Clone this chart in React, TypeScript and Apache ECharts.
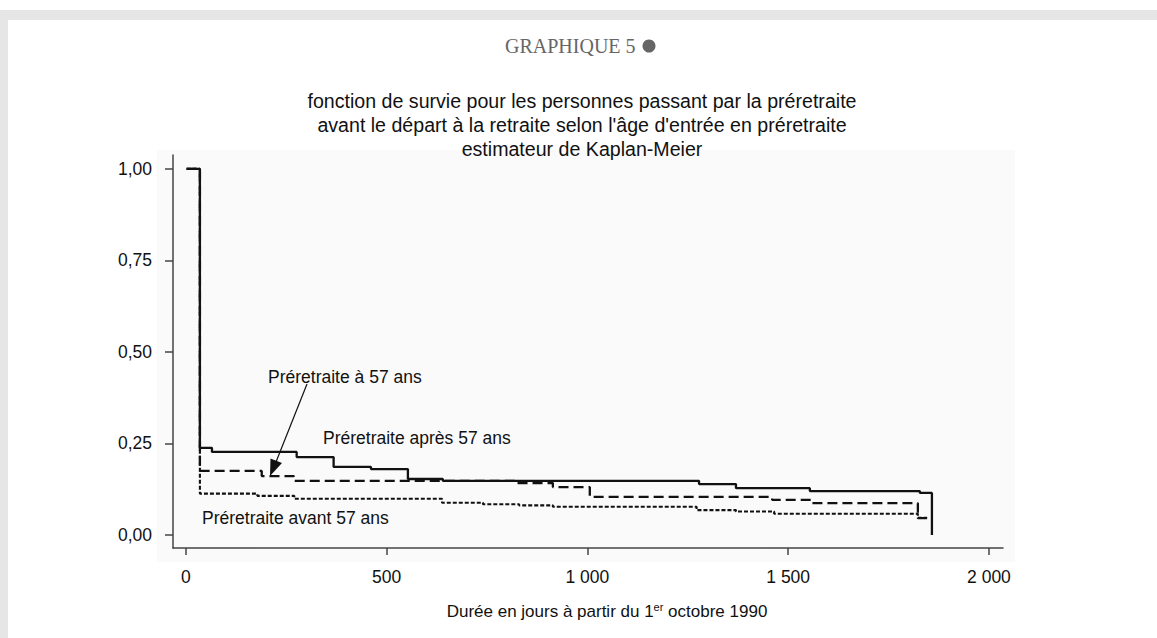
import React, { useEffect, useRef } from "react";
import * as echarts from "echarts";

// Durée (jours) et valeur de la fonction de survie (Kaplan-Meier)
const apresX = [2, 35, 65, 276, 368, 461, 553, 640, 1278, 1370, 1554, 1828, 1858];
const apresY = [1, 0.238, 0.227, 0.213, 0.186, 0.18, 0.153, 0.148, 0.139, 0.128, 0.12, 0.115, 0];

const a57X = [2, 35, 189, 269, 825, 914, 1006, 1460, 1559, 1823, 1846];
const a57Y = [1, 0.175, 0.161, 0.148, 0.142, 0.131, 0.104, 0.096, 0.087, 0.046, 0.046];

const avantX = [2, 35, 178, 270, 638, 740, 830, 914, 1272, 1370, 1465, 1823, 1846];
const avantY = [1, 0.113, 0.107, 0.099, 0.088, 0.084, 0.081, 0.077, 0.068, 0.064, 0.058, 0.047, 0.047];

const xTicks = [0, 500, 1000, 1500, 2000];
const yTicks = [0, 0.25, 0.5, 0.75, 1];

const titleText = "GRAPHIQUE 5";
const subtitleLines = [
  "fonction de survie pour les personnes passant par la préretraite",
  "avant le départ à la retraite selon l'âge d'entrée en préretraite",
  "estimateur de Kaplan-Meier",
];
const labelA57 = "Préretraite à 57 ans";
const labelApres = "Préretraite après 57 ans";
const labelAvant = "Préretraite avant 57 ans";

const SANS = '"Liberation Sans", Arial, sans-serif';
const SERIF = '"Liberation Serif", "Times New Roman", serif';
const INK = "#111";

const pair = (xs: number[], ys: number[]) => xs.map((x, i) => [x, ys[i]]);

export default function App() {
  const ref = useRef<HTMLDivElement>(null);

  useEffect(() => {
    if (!ref.current) return;
    const chart = echarts.init(ref.current, undefined, { renderer: "svg" });
    const lineBase = { color: INK, width: 2.3 };
    chart.setOption({
      animation: false,
      backgroundColor: "#ffffff",
      grid: { left: 173, right: 154, top: 155, bottom: 90, containLabel: false, outerBoundsMode: "none" },
      xAxis: {
        type: "value",
        min: -32,
        max: 2035,
        axisLine: { show: true, onZero: false, lineStyle: { color: "#444", width: 1.5 } },
        axisTick: { show: true, length: 7, customValues: xTicks, lineStyle: { color: "#444", width: 1.5 } },
        axisLabel: {
          customValues: xTicks,
          margin: 20,
          fontSize: 17.5,
          fontFamily: SANS,
          color: INK,
          formatter: (v: number) =>
            v >= 1000 ? `${Math.floor(v / 1000)} ${String(v % 1000).padStart(3, "0")}` : String(v),
        },
        splitLine: { show: false },
        name: "{a|Durée en jours à partir du 1}{s|er}{a| octobre 1990}",
        nameLocation: "middle",
        nameGap: 53,
        nameTextStyle: {
          color: INK,
          fontFamily: SANS,
          padding: [0, 0, 0, 38],
          rich: {
            a: { fontSize: 17, fontFamily: SANS, color: INK, verticalAlign: "bottom", lineHeight: 19 },
            s: { fontSize: 11, fontFamily: SANS, color: INK, verticalAlign: "top", lineHeight: 12 },
          },
        },
      },
      yAxis: {
        type: "value",
        min: -0.0355,
        max: 1.038,
        axisLine: { show: true, onZero: false, lineStyle: { color: "#444", width: 1.5 } },
        axisTick: { show: true, length: 8, customValues: yTicks, lineStyle: { color: "#444", width: 1.5 } },
        axisLabel: {
          customValues: yTicks,
          margin: 21,
          fontSize: 17.5,
          fontFamily: SANS,
          color: INK,
          formatter: (v: number) => v.toFixed(2).replace(".", ","),
        },
        splitLine: { show: false },
      },
      series: [
        {
          name: labelAvant,
          type: "line",
          step: "end",
          symbol: "none",
          z: 3,
          data: pair(avantX, avantY),
          lineStyle: { ...lineBase, width: 2.1, type: [4, 2] },
        },
        {
          name: labelA57,
          type: "line",
          step: "end",
          symbol: "none",
          z: 4,
          data: pair(a57X, a57Y),
          lineStyle: { ...lineBase, type: [10, 5] },
        },
        {
          name: labelApres,
          type: "line",
          step: "end",
          symbol: "none",
          z: 5,
          data: pair(apresX, apresY),
          lineStyle: { ...lineBase, type: "solid" },
        },
      ],
      graphic: [
        { type: "rect", z: -20, silent: true, shape: { x: 0, y: 10, width: 1157, height: 10 }, style: { fill: "#e6e6e6" } },
        { type: "rect", z: -20, silent: true, shape: { x: 0, y: 10, width: 8, height: 628 }, style: { fill: "#e6e6e6" } },
        { type: "rect", z: -20, silent: true, shape: { x: 157, y: 150, width: 858, height: 412 }, style: { fill: "#fafafa" } },
        {
          type: "text", x: 505, y: 46, silent: true,
          style: { text: titleText, fill: "#666", fontSize: 20, fontFamily: SERIF, align: "left", verticalAlign: "middle" },
        },
        { type: "circle", silent: true, shape: { cx: 649, cy: 46, r: 6.5 }, style: { fill: "#666" } },
        ...subtitleLines.map((t, i) => ({
          type: "text", x: 582, y: 101 + i * 24, silent: true,
          style: { text: t, fill: INK, fontSize: 19.6, fontFamily: SANS, align: "center", verticalAlign: "middle" },
        })),
        {
          type: "text", x: 268, y: 377, silent: true, z: 10,
          style: { text: labelA57, fill: INK, fontSize: 17.5, fontFamily: SANS, align: "left", verticalAlign: "middle" },
        },
        {
          type: "text", x: 323, y: 438, silent: true, z: 10,
          style: { text: labelApres, fill: INK, fontSize: 17.5, fontFamily: SANS, align: "left", verticalAlign: "middle" },
        },
        {
          type: "text", x: 202, y: 518, silent: true, z: 10,
          style: { text: labelAvant, fill: INK, fontSize: 17.5, fontFamily: SANS, align: "left", verticalAlign: "middle" },
        },
        {
          type: "line", silent: true, z: 10,
          shape: { x1: 307, y1: 384, x2: 276, y2: 462 },
          style: { stroke: INK, lineWidth: 1.2 },
        },
        {
          type: "polygon", silent: true, z: 10,
          shape: { points: [[270, 476], [270.5, 458.5], [282, 463]] },
          style: { fill: INK },
        },
      ],
    });
    return () => chart.dispose();
  }, []);

  return (
    <div
      ref={ref}
      style={{ position: "fixed", left: 0, top: 0, width: 1157, height: 638, background: "#fff" }}
    />
  );
}
